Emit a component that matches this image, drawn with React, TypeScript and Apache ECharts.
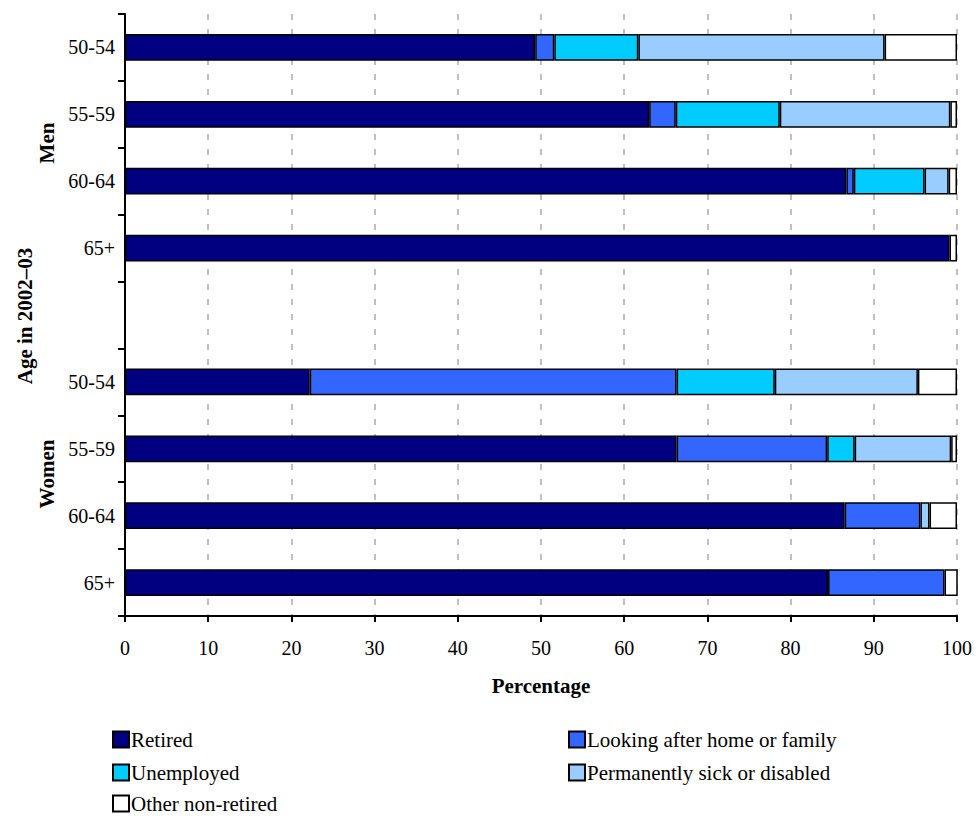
import React, { useEffect, useRef } from "react";
import * as echarts from "echarts";

const categories = ["50-54", "55-59", "60-64", "65+", "", "50-54", "55-59", "60-64", "65+"];
const seriesNames = [
  "Retired",
  "Looking after home or family",
  "Unemployed",
  "Permanently sick or disabled",
  "Other non-retired",
];
const retired = [49.3, 63.0, 86.7, 99.1, null, 22.2, 66.3, 86.5, 84.5];
const lookingAfter = [2.3, 3.2, 0.9, null, null, 44.1, 18.1, 9.1, 14.0];
const unemployed = [10.1, 12.5, 8.5, null, null, 11.8, 3.3, null, null];
const sick = [29.6, 20.5, 2.9, null, null, 17.2, 11.6, 1.1, null];
const other = [8.7, 0.8, 1.0, 0.9, null, 4.7, 0.7, 3.3, 1.6];
const xTicks = [0, 10, 20, 30, 40, 50, 60, 70, 80, 90, 100];
const colors = ["#000080", "#3366FF", "#00CCFF", "#99CCFF", "#FFFFFF"];

const FONT = "Liberation Serif";

export default function App() {
  const ref = useRef<HTMLDivElement>(null);
  useEffect(() => {
    if (!ref.current) return;
    const chart = echarts.init(ref.current, null, { renderer: "svg" });
    const dataSets = [retired, lookingAfter, unemployed, sick, other];
    const legendPos = [
      { left: 112, top: 729 },
      { left: 568, top: 729 },
      { left: 112, top: 762 },
      { left: 568, top: 762 },
      { left: 112, top: 793 },
    ];
    chart.setOption({
      animation: false,
      textStyle: { fontFamily: FONT },
      grid: { left: 125, right: 19, top: 14, bottom: 200, containLabel: false },
      xAxis: {
        type: "value",
        min: 0,
        max: 100,
        interval: 10,
        axisLine: { show: true, lineStyle: { color: "#000", width: 2 } },
        axisTick: { show: true, length: 6, lineStyle: { color: "#000", width: 2 } },
        axisLabel: {
          color: "#000",
          fontSize: 20,
          fontFamily: FONT,
          margin: 22,
          formatter: (v: number) => (xTicks.includes(v) ? String(v) : ""),
        },
        splitLine: {
          show: true,
          lineStyle: { color: "#c0c0c0", width: 2, type: [6, 9] },
        },
      },
      yAxis: {
        type: "category",
        data: categories,
        inverse: true,
        axisLine: { show: true, lineStyle: { color: "#000", width: 2 } },
        axisTick: { show: true, length: 7, lineStyle: { color: "#000", width: 2 } },
        axisLabel: { color: "#000", fontSize: 20, fontFamily: FONT, margin: 10, interval: 0 },
        splitLine: { show: false },
      },
      legend: legendPos.map((p, i) => ({
        data: [seriesNames[i]],
        left: p.left,
        top: p.top,
        padding: 0,
        itemWidth: 16,
        itemHeight: 16,
        itemGap: 4,
        icon: "rect",
        itemStyle: { borderColor: "#000", borderWidth: 2 },
        textStyle: { fontSize: 21, fontFamily: FONT, color: "#000", padding: [0, 0, 0, -3] },
        selectedMode: false,
      })),
      series: seriesNames.map((name, i) => ({
        name,
        type: "bar",
        stack: "total",
        barWidth: "40%",
        data: dataSets[i],
        itemStyle: { color: colors[i], borderColor: "#000", borderWidth: 1.5 },
      })),
      graphic: [
        {
          type: "text",
          x: 541,
          y: 686,
          style: {
            text: "Percentage",
            font: `bold 21px ${FONT}`,
            fill: "#000",
            align: "center",
            verticalAlign: "middle",
          },
        },
        {
          type: "text",
          x: 25,
          y: 316,
          rotation: Math.PI / 2,
          style: {
            text: "Age in 2002\u201303",
            font: `bold 21px ${FONT}`,
            fill: "#000",
            align: "center",
            verticalAlign: "middle",
          },
        },
        {
          type: "text",
          x: 47,
          y: 143,
          rotation: Math.PI / 2,
          style: {
            text: "Men",
            font: `bold 21px ${FONT}`,
            fill: "#000",
            align: "center",
            verticalAlign: "middle",
          },
        },
        {
          type: "text",
          x: 47,
          y: 474,
          rotation: Math.PI / 2,
          style: {
            text: "Women",
            font: `bold 21px ${FONT}`,
            fill: "#000",
            align: "center",
            verticalAlign: "middle",
          },
        },
      ],
    });
    return () => chart.dispose();
  }, []);
  return (
    <div
      ref={ref}
      style={{ position: "absolute", left: 0, top: 0, width: 976, height: 816 }}
    />
  );
}
